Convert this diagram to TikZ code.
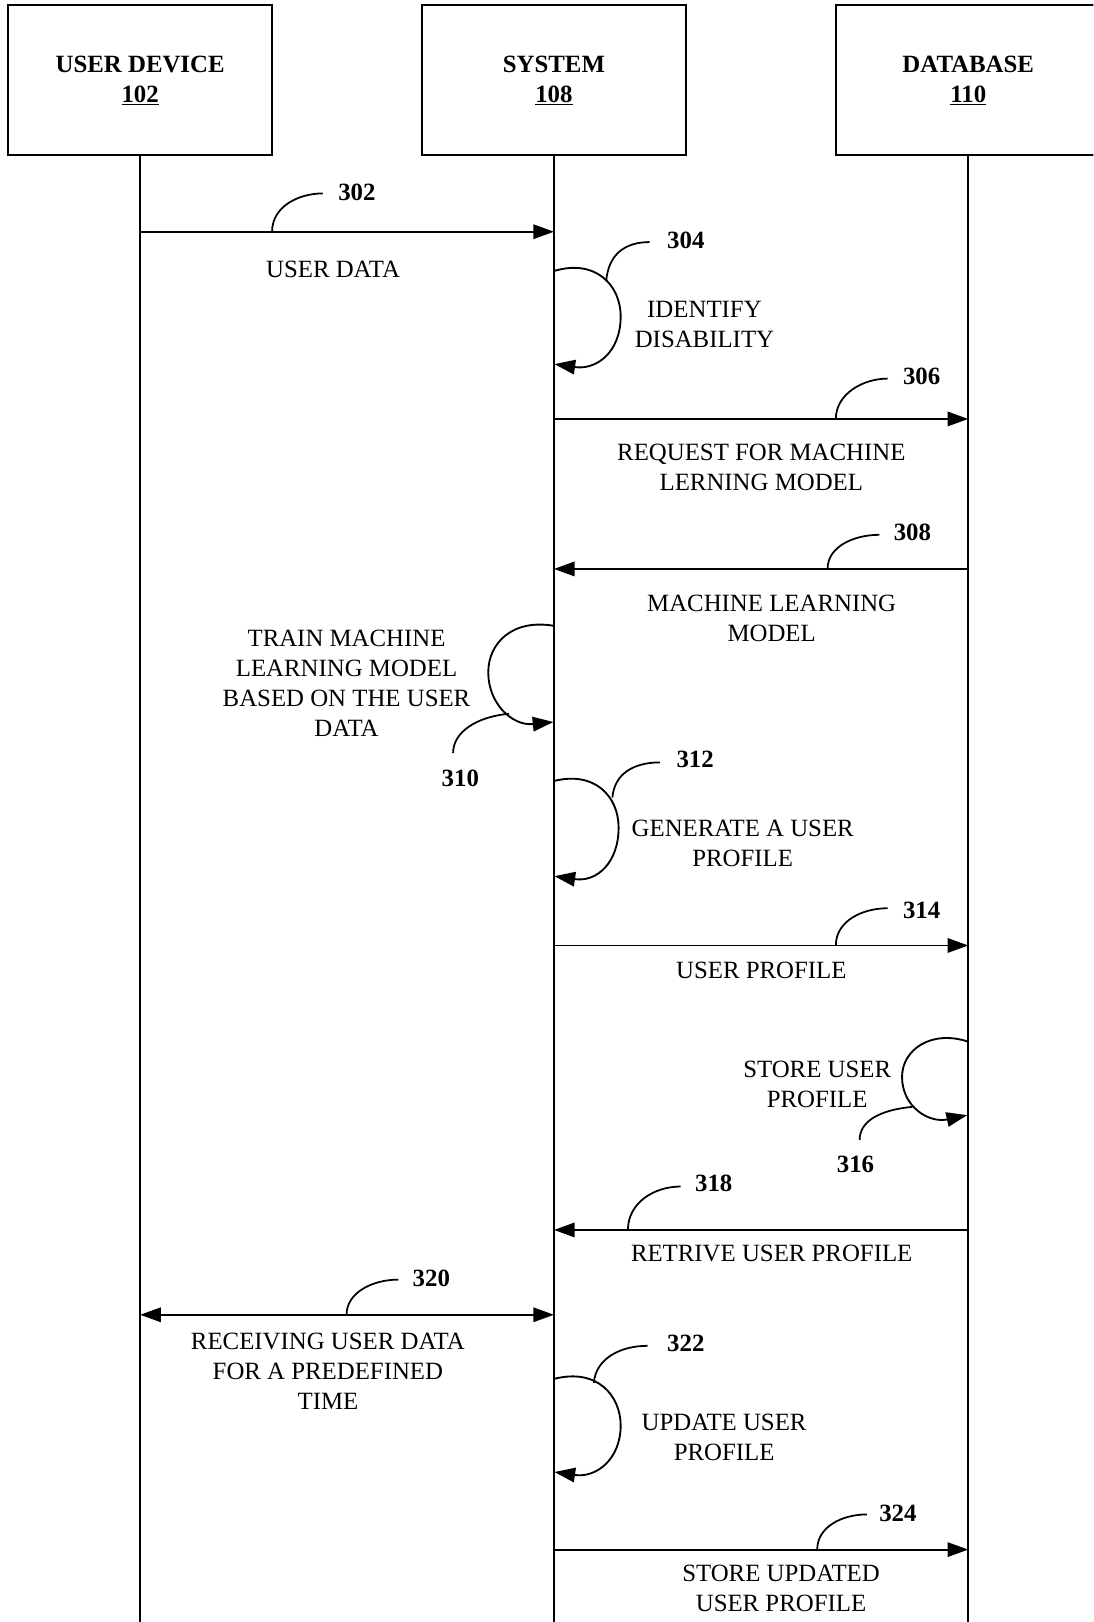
\documentclass[tikz,border=0pt]{standalone}
\usepackage{fontspec}
\setmainfont{Liberation Serif}
\usetikzlibrary{arrows.meta}
\begin{document}
\begin{tikzpicture}[x=1pt,y=-1pt,
  line width=1.8pt,
  txt/.style={font=\fontsize{24}{29}\selectfont, align=center, inner sep=0pt},
  num/.style={font=\fontsize{24}{29}\selectfont\bfseries, inner sep=0pt},
  actor/.style={draw, line width=1.8pt, minimum width=255pt, minimum height=145pt,
    inner sep=0pt, align=center, font=\fontsize{24}{29}\selectfont\bfseries},
  msg/.style={-{Triangle[length=20pt,width=14pt]}},
  dmsg/.style={{Triangle[length=20pt,width=14pt]}-{Triangle[length=20pt,width=14pt]}},
  lead/.style={line width=1.7pt},
]
\useasboundingbox (0,0) rectangle (1057,1568);
\clip (0,0) rectangle (1057,1568);

% participants
\node[actor] (ud) at (135.5,77.5) {USER DEVICE\\\underline{102}};
\node[actor] (sy) at (535.5,77.5) {SYSTEM\\\underline{108}};
\node[actor] (db) at (936,77.5) {DATABASE\\\underline{110}};

% lifelines
\coordinate (udEnd) at (135.5,1570);
\coordinate (syEnd) at (535.5,1570);
\coordinate (dbEnd) at (936,1570);
\draw (ud.south) -- (udEnd);
\draw (sy.south) -- (syEnd);
\draw (db.south) -- (dbEnd);

% 302: user data
\coordinate (a302) at (135.5,224);
\coordinate (b302) at (535.5,224);
\draw[msg] (a302) -- (b302);
\node[num] (n302) at (345,186) {302};
\coordinate (s302) at (263,224);
\coordinate (e302) at (312,187);
\draw[lead] (s302) .. controls +(0,-24) and +(-24,0) .. (e302);
\node[txt] (t302) at (322,260) {USER DATA};

% 304: identify disability
\coordinate (a304) at (535.5,262);
\coordinate (b304) at (536,352);
\draw[msg] (a304) .. controls (575,250) and (600,275) .. (600,306)
  .. controls (600,340) and (577,358) .. (b304);
\node[num] (n304) at (663,232) {304};
\coordinate (s304) at (586,272);
\coordinate (e304) at (628,234);
\draw[lead] (s304) .. controls +(2,-26) and +(-24,0) .. (e304);
\node[txt] (t304) at (681,313.5) {IDENTIFY\\DISABILITY};

% 306: request for machine learning model
\coordinate (a306) at (535.5,405);
\coordinate (b306) at (936,405);
\draw[msg] (a306) -- (b306);
\node[num] (n306) at (891,364) {306};
\coordinate (s306) at (808,405);
\coordinate (e306) at (858,366);
\draw[lead] (s306) .. controls +(0,-24) and +(-24,0) .. (e306);
\node[txt] (t306) at (736,451.5) {REQUEST FOR MACHINE\\LERNING MODEL};

% 308: machine learning model
\coordinate (a308) at (936,550);
\coordinate (b308) at (535.5,550);
\draw[msg] (a308) -- (b308);
\node[num] (n308) at (882,515) {308};
\coordinate (s308) at (800,550);
\coordinate (e308) at (850,517);
\draw[lead] (s308) .. controls +(0,-22) and +(-24,0) .. (e308);
\node[txt] (t308) at (746,597.5) {MACHINE LEARNING\\MODEL};

% 310: train machine learning model
\coordinate (a310) at (535.5,605);
\coordinate (b310) at (535,698);
\draw[msg] (a310) .. controls (495,598) and (472,622) .. (472,650)
  .. controls (472,680) and (495,702) .. (b310);
\node[num] (n310) at (445,752) {310};
\coordinate (s310) at (492,690);
\coordinate (e310) at (438,728);
\draw[lead] (s310) .. controls +(-32,3) and +(0,-20) .. (e310);
\node[txt] (t310) at (335,661) {TRAIN MACHINE\\LEARNING MODEL\\BASED ON THE USER\\DATA};

% 312: generate a user profile
\coordinate (a312) at (535.5,755);
\coordinate (b312) at (536,847);
\draw[msg] (a312) .. controls (575,745) and (598,770) .. (598,800)
  .. controls (598,834) and (577,853) .. (b312);
\node[num] (n312) at (672,734) {312};
\coordinate (s312) at (592,771);
\coordinate (e312) at (638,737);
\draw[lead] (s312) .. controls +(2,-24) and +(-24,0) .. (e312);
\node[txt] (t312) at (718,815.5) {GENERATE A USER\\PROFILE};

% 314: user profile
\coordinate (a314) at (535.5,914);
\coordinate (b314) at (936,914);
\draw[msg] (a314) -- (b314);
\node[num] (n314) at (891,880) {314};
\coordinate (s314) at (808,914);
\coordinate (e314) at (858,878);
\draw[lead] (s314) .. controls +(0,-24) and +(-24,0) .. (e314);
\node[txt] (t314) at (736,938) {USER PROFILE};

% 316: store user profile
\coordinate (a316) at (936,1007);
\coordinate (b316) at (935,1078);
\draw[msg] (a316) .. controls (900,995) and (872,1015) .. (872,1041)
  .. controls (872,1070) and (898,1086) .. (b316);
\node[num] (n316) at (827,1126) {316};
\coordinate (s316) at (882,1070);
\coordinate (e316) at (831,1102);
\draw[lead] (s316) .. controls +(-32,3) and +(0,-18) .. (e316);
\node[txt] (t316) at (790,1048.5) {STORE USER\\PROFILE};

% 318: retrieve user profile
\coordinate (a318) at (936,1189);
\coordinate (b318) at (535.5,1189);
\draw[msg] (a318) -- (b318);
\node[num] (n318) at (690,1144) {318};
\coordinate (s318) at (607,1189);
\coordinate (e318) at (658,1147);
\draw[lead] (s318) .. controls +(0,-26) and +(-26,0) .. (e318);
\node[txt] (t318) at (746,1212) {RETRIVE USER PROFILE};

% 320: receiving user data
\coordinate (a320) at (135.5,1271);
\coordinate (b320) at (535.5,1271);
\draw[dmsg] (a320) -- (b320);
\node[num] (n320) at (417,1236) {320};
\coordinate (s320) at (335,1271);
\coordinate (e320) at (385,1237);
\draw[lead] (s320) .. controls +(0,-22) and +(-24,0) .. (e320);
\node[txt] (t320) at (317,1326) {RECEIVING USER DATA\\FOR A PREDEFINED\\TIME};

% 322: update user profile
\coordinate (a322) at (535.5,1333);
\coordinate (b322) at (536,1423);
\draw[msg] (a322) .. controls (578,1322) and (600,1350) .. (600,1378)
  .. controls (600,1410) and (577,1429) .. (b322);
\node[num] (n322) at (663,1299) {322};
\coordinate (s322) at (574,1337);
\coordinate (e322) at (626,1301);
\draw[lead] (s322) .. controls +(2,-24) and +(-26,0) .. (e322);
\node[txt] (t322) at (700,1390) {UPDATE USER\\PROFILE};

% 324: store updated user profile
\coordinate (a324) at (535.5,1498);
\coordinate (b324) at (936,1498);
\draw[msg] (a324) -- (b324);
\node[num] (n324) at (868,1463) {324};
\coordinate (s324) at (790,1498);
\coordinate (e324) at (838,1464);
\draw[lead] (s324) .. controls +(0,-22) and +(-24,0) .. (e324);
\node[txt] (t324) at (755,1535.5) {STORE UPDATED\\USER PROFILE};
\end{tikzpicture}
\end{document}
